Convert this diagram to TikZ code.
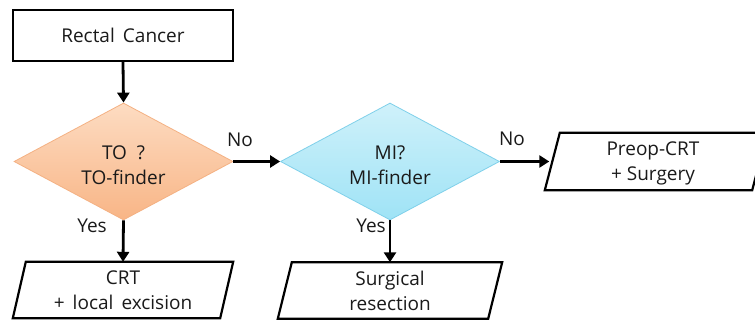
\documentclass[tikz,border=0pt]{standalone}
\usepackage{fontspec}
\setmainfont{Open Sans}
\usetikzlibrary{shapes.geometric,arrows.meta}
\definecolor{toTop}{HTML}{FDDCC2}
\definecolor{toBot}{HTML}{F8B586}
\definecolor{toLine}{HTML}{F4B183}
\definecolor{miTop}{HTML}{CFF1FA}
\definecolor{miBot}{HTML}{9FE3F6}
\definecolor{miLine}{HTML}{7FD0EA}
\definecolor{txt}{HTML}{1A1A1A}
\begin{document}
\begin{tikzpicture}[x=1pt,y=-1pt,
  font=\fontsize{19}{25}\selectfont, text=txt,
  box/.style={draw, line width=2.2pt, minimum width=220pt, minimum height=51pt, inner sep=0pt},
  dec/.style={diamond, draw, line width=0.8pt, minimum width=219pt, minimum height=117pt, inner sep=0pt, align=center},
  io/.style={minimum width=207pt, minimum height=56pt, inner sep=0pt, align=center},
  iofr/.style={draw, line width=2.2pt},
  arr/.style={line width=2.8pt, -{Triangle[length=10pt,width=12pt]}},
  lab/.style={inner sep=0pt}]
\useasboundingbox (0,0) rectangle (755,321);
\clip (0,0) rectangle (755,321);

\node[box] (rc) at (123,35.5) {Rectal\, Cancer};
\node[dec, top color=toTop, bottom color=toBot, draw=toLine] (to) at (123.5,161.5) {};
\node[align=center, inner sep=0pt] (tot) at (123.5,165) {TO\ \ ?\\TO-finder};
\node[dec, top color=miTop, bottom color=miBot, draw=miLine] (mi) at (390,161.5) {};
\node[align=center, inner sep=0pt] (mit) at (390,165) {MI?\\MI-finder};

\node[io] (crt) at (123,290) {CRT\\+\, local\, excision};
\draw[iofr] ([xshift=-6.5pt]crt.south west) -- ([xshift=-6.5pt]crt.south east) -- ([xshift=6.5pt]crt.north east) -- ([xshift=6.5pt]crt.north west) -- cycle;

\node[io, minimum width=210pt] (sr) at (390,290.5) {Surgical\\resection};
\draw[iofr] ([xshift=-7pt]sr.south west) -- ([xshift=-7pt]sr.south east) -- ([xshift=7pt]sr.north east) -- ([xshift=7pt]sr.north west) -- cycle;

\node[io, minimum height=57pt] (pc) at (656,161.5) {};
\node[align=center, inner sep=0pt] (pct) at (653,163) {Preop-CRT\\+ Surgery};
\draw[iofr] ([xshift=-7.5pt]pc.south west) -- ([xshift=-7.5pt]pc.south east) -- ([xshift=7.5pt]pc.north east) -- ([xshift=7.5pt]pc.north west) -- cycle;

\draw[arr] (rc.south) -- (to.north);
\draw[arr] (to.south) -- (crt.north);
\draw[arr] (to.east) -- (mi.west);
\draw[arr] (mi.south) -- (sr.north);
\draw[arr] (mi.east) -- ([xshift=-3pt]pc.west);

\node[lab] (yes1) at (92,226) {Yes};
\node[lab] (no1) at (240,140) {No};
\node[lab] (yes2) at (371,226) {Yes};
\node[lab] (no2) at (512,139) {No};
\end{tikzpicture}
\end{document}
